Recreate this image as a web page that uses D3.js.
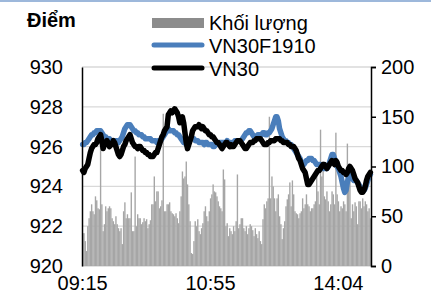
<!DOCTYPE html>
<html>
<head>
<meta charset="utf-8">
<script src="https://d3js.org/d3.v7.min.js"></script>
<style>
  body { margin: 0; background: #fff; }
  svg text { font-family: "Liberation Sans", Arial, sans-serif; }
</style>
</head>
<body>
<div id="chart"></div>
<script>
// data, one value per minute of trading
var tickLabels = ["09:15", "10:55", "14:04"];
var tickIndex = [0, 100, 200];
var leftTicks = [920, 922, 924, 926, 928, 930];
var rightTicks = [0, 50, 100, 150, 200];
var legendNames = ["Khối lượng", "VN30F1910", "VN30"];

var volume = [
  33, 33, 25, 15, 40, 48, 55, 62, 55, 52,
  70, 66, 58, 57, 138, 62, 35, 42, 60, 55,
  58, 60, 58, 48, 45, 42, 50, 42, 38, 35,
  38, 22, 55, 64, 48, 52, 48, 48, 74, 35,
  35, 110, 40, 52, 48, 48, 42, 44, 48, 45,
  47, 38, 42, 46, 62, 62, 90, 65, 75, 75,
  58, 60, 66, 153, 55, 55, 62, 62, 64, 55,
  53, 52, 50, 53, 48, 43, 55, 70, 95, 88,
  90, 105, 82, 62, 45, 13, 12, 25, 45, 40,
  47, 35, 32, 38, 43, 55, 60, 50, 45, 55,
  68, 72, 82, 75, 74, 70, 65, 60, 58, 55,
  97, 87, 40, 43, 30, 38, 35, 32, 40, 35,
  45, 92, 38, 42, 48, 48, 38, 35, 40, 32,
  38, 42, 40, 36, 30, 38, 32, 28, 35, 25,
  22, 47, 62, 58, 65, 68, 150, 68, 90, 80,
  68, 55, 68, 72, 50, 42, 27, 38, 45, 60,
  67, 72, 84, 60, 86, 72, 55, 53, 52, 48,
  53, 55, 68, 58, 62, 72, 62, 60, 55, 58,
  58, 62, 65, 92, 75, 62, 137, 90, 105, 70,
  67, 75, 65, 55, 62, 75, 72, 62, 134, 72,
  65, 55, 60, 58, 65, 62, 55, 123, 102, 89,
  48, 62, 55, 64, 60, 42, 65, 65, 58, 68,
  60, 65, 62, 55, 58, 48
];

var vn30f = [
  926.1, 926.1, 926.2, 926.2, 926.3, 926.4, 926.5, 926.6, 926.6, 926.7,
  926.7, 926.8, 926.8, 926.8, 926.8, 926.7, 926.6, 926.5, 926.5, 926.4,
  926.4, 926.4, 926.3, 926.3, 926.3, 926.3, 926.3, 926.3, 926.2, 926.3,
  926.4, 926.5, 926.7, 926.9, 927.0, 927.1, 927.1, 927.1, 927.0, 926.9,
  926.8, 926.8, 926.7, 926.7, 926.6, 926.6, 926.6, 926.5, 926.5, 926.4,
  926.4, 926.4, 926.4, 926.4, 926.3, 926.3, 926.3, 926.3, 926.2, 926.3,
  926.3, 926.3, 926.4, 926.5, 926.6, 926.7, 926.8, 926.9, 926.8, 926.8,
  926.8, 926.8, 926.7, 926.7, 926.6, 926.6, 926.5, 926.4, 926.3, 926.2,
  926.2, 926.1, 926.2, 926.3, 926.4, 926.4, 926.4, 926.4, 926.3, 926.3,
  926.3, 926.2, 926.2, 926.2, 926.2, 926.1, 926.2, 926.2, 926.1, 926.1,
  926.1, 926.1, 926.0, 926.0, 926.1, 926.1, 926.2, 926.2, 926.2, 926.2,
  926.2, 926.2, 926.2, 926.3, 926.2, 926.2, 926.2, 926.1, 926.2, 926.3,
  926.3, 926.3, 926.3, 926.3, 926.3, 926.4, 926.5, 926.6, 926.7, 926.7,
  926.8, 926.8, 926.7, 926.6, 926.5, 926.5, 926.5, 926.6, 926.6, 926.6,
  926.6, 926.7, 926.7, 926.6, 926.6, 926.7, 926.7, 926.8, 926.9, 927.1,
  927.3, 927.5, 927.5, 927.3, 926.9, 926.7, 926.5, 926.4, 926.3, 926.3,
  926.2, 926.2, 926.1, 926.1, 926.0, 925.9, 925.8, 925.7, 925.6, 925.5,
  925.4, 925.2, 925.1, 925.1, 925.2, 925.3, 925.3, 925.4, 925.4, 925.4,
  925.3, 925.3, 925.2, 925.1, 925.1, 925.1, 925.1, 925.0, 924.9, 924.9,
  924.9, 924.9, 925.0, 925.2, 925.4, 925.6, 925.6, 925.4, 925.1, 925.0,
  924.9, 924.7, 924.5, 924.2, 923.9, 923.7, 923.8, 924.2, 924.5, 924.6,
  924.5, 924.4, 924.3, 924.3, 924.3, 924.2, 924.1, 924.0, 923.9, 923.8,
  923.8, 923.9, 924.1, 924.3, 924.5, 924.6
];

var vn30 = [
  924.8, 924.7, 924.9, 925.0, 925.1, 925.4, 925.7, 925.9, 926.0, 926.1,
  926.1, 926.2, 926.4, 926.5, 926.6, 926.3, 925.9, 926.1, 926.2, 926.3,
  926.2, 926.0, 926.1, 926.1, 926.3, 926.2, 926.0, 925.8, 925.6, 925.5,
  925.6, 925.8, 926.0, 926.1, 926.3, 926.4, 926.5, 926.6, 926.4, 926.2,
  926.1, 926.0, 926.0, 925.9, 926.0, 926.0, 925.9, 925.8, 925.8, 925.7,
  925.7, 925.6, 925.6, 925.5, 925.5, 925.5, 925.6, 925.7, 925.7, 925.9,
  926.1, 926.3, 926.5, 926.6, 926.8, 926.9, 927.0, 927.6, 927.7, 927.8,
  927.7, 927.8, 927.9, 927.8, 927.7, 927.5, 927.2, 927.3, 927.5, 927.2,
  926.7, 926.2, 925.9, 926.1, 926.3, 926.5, 926.8, 926.9, 927.0, 927.0,
  927.0, 927.1, 927.0, 926.9, 927.0, 926.9, 926.8, 926.8, 926.7, 926.6,
  926.6, 926.5, 926.5, 926.4, 926.3, 926.2, 926.2, 926.1, 926.0, 925.9,
  926.0, 926.1, 926.2, 926.2, 926.1, 926.0, 926.1, 926.0, 926.0, 926.1,
  926.2, 926.3, 926.3, 926.3, 926.2, 926.1, 926.0, 925.9, 925.9, 926.0,
  926.1, 926.2, 926.2, 926.2, 926.3, 926.3, 926.4, 926.4, 926.4, 926.4,
  926.3, 926.2, 926.1, 926.1, 926.1, 926.2, 926.2, 926.3, 926.3, 926.3,
  926.3, 926.4, 926.4, 926.4, 926.4, 926.3, 926.3, 926.2, 926.2, 926.2,
  926.2, 926.1, 926.1, 926.0, 926.0, 926.0, 925.9, 925.8, 925.6, 925.4,
  925.3, 925.1, 924.9, 924.8, 924.7, 924.4, 924.1, 924.1, 924.2, 924.3,
  924.4, 924.5, 924.6, 924.7, 924.8, 924.8, 924.9, 925.0, 925.1, 925.1,
  925.0, 924.9, 925.0, 925.1, 925.2, 925.3, 925.2, 925.1, 925.3, 925.2,
  925.0, 924.9, 924.8, 924.8, 924.7, 924.7, 924.6, 924.7, 924.9, 925.0,
  924.9, 924.8, 924.6, 924.4, 924.3, 924.2, 924.0, 923.8, 923.7, 923.7,
  923.8, 924.0, 924.3, 924.5, 924.6, 924.7
];

var w = 431, h = 290;
var plot = {left: 82, right: 371, top: 67, bottom: 266};
var blue = "#4a7ebb", gray = "#a6a6a6", grid = "#d9d9d9";

var svg = d3.select("#chart").append("svg")
  .attr("width", w)
  .attr("height", h);

// thin rule along the top edge
svg.append("line")
  .attr("x1", 0).attr("x2", w)
  .attr("y1", 1).attr("y2", 1)
  .attr("stroke", "#7da0cf")
  .attr("stroke-width", 1.5);

var xScale = d3.scaleBand()
  .domain(d3.range(volume.length))
  .range([plot.left, plot.right])
  .paddingInner(0);

var yLeft = d3.scaleLinear().domain([920, 930]).range([plot.bottom, plot.top]);
var yRight = d3.scaleLinear().domain([0, 200]).range([plot.bottom, plot.top]);

function xc(i) { return xScale(i) + xScale.bandwidth() / 2; }

// gridlines
svg.append("g")
  .selectAll("line")
  .data(leftTicks)
  .enter()
  .append("line")
  .attr("x1", plot.left).attr("x2", plot.right)
  .attr("y1", function(d) { return yLeft(d); })
  .attr("y2", function(d) { return yLeft(d); })
  .attr("stroke", grid)
  .attr("stroke-width", 1.3);

// volume bars
svg.append("g")
  .selectAll("rect")
  .data(volume)
  .enter()
  .append("rect")
  .attr("x", function(d, i) { return xScale(i); })
  .attr("width", xScale.bandwidth() + 0.1)
  .attr("y", function(d) { return yRight(d); })
  .attr("height", function(d) { return plot.bottom - yRight(d); })
  .attr("fill", gray);

var lineL = d3.line()
  .x(function(d, i) { return xc(i); })
  .y(function(d) { return yLeft(d); });

svg.append("path")
  .datum(vn30f)
  .attr("d", lineL)
  .attr("fill", "none")
  .attr("stroke", blue)
  .attr("stroke-width", 5.5)
  .attr("stroke-linejoin", "round")
  .attr("stroke-linecap", "round");

svg.append("path")
  .datum(vn30)
  .attr("d", lineL)
  .attr("fill", "none")
  .attr("stroke", "#000")
  .attr("stroke-width", 5.5)
  .attr("stroke-linejoin", "round")
  .attr("stroke-linecap", "round");

// left axis: line only, labels on the left
var leftAxis = svg.append("g")
  .attr("transform", "translate(" + plot.left + ",0)")
  .call(d3.axisLeft(yLeft).tickValues(leftTicks).tickSize(0).tickPadding(19).tickFormat(d3.format("d")));
leftAxis.select(".domain").attr("stroke", "#000").attr("stroke-width", 1.5);
leftAxis.selectAll("text").attr("font-size", 20).attr("fill", "#000")
  .attr("font-family", "Liberation Sans, Arial, sans-serif");

// right axis: small outward ticks
var rightAxis = svg.append("g")
  .attr("transform", "translate(" + plot.right + ",0)")
  .call(d3.axisRight(yRight).tickValues(rightTicks).tickSize(5).tickSizeOuter(5).tickPadding(5));
rightAxis.select(".domain").attr("stroke", "#000").attr("stroke-width", 1.5);
rightAxis.selectAll("line").attr("stroke", "#000").attr("stroke-width", 1.5);
rightAxis.selectAll("text").attr("font-size", 20).attr("fill", "#000")
  .attr("font-family", "Liberation Sans, Arial, sans-serif");

// time labels
svg.append("g")
  .selectAll("text")
  .data(tickIndex)
  .enter()
  .append("text")
  .attr("x", function(d) { return xc(d); })
  .attr("y", 290)
  .attr("text-anchor", "middle")
  .attr("font-size", 20)
  .text(function(d, i) { return tickLabels[i]; });

// axis title
svg.append("text")
  .attr("x", 27)
  .attr("y", 27)
  .attr("font-size", 20)
  .attr("font-weight", "bold")
  .text("Điểm");

// legend
var lg = svg.append("g");
lg.append("rect")
  .attr("x", 152).attr("y", 18)
  .attr("width", 52).attr("height", 10)
  .attr("fill", "#8c8c8c");
lg.append("line")
  .attr("x1", 154).attr("x2", 202)
  .attr("y1", 45).attr("y2", 45)
  .attr("stroke", blue).attr("stroke-width", 5)
  .attr("stroke-linecap", "round");
lg.append("line")
  .attr("x1", 154).attr("x2", 202)
  .attr("y1", 68).attr("y2", 68)
  .attr("stroke", "#000").attr("stroke-width", 5)
  .attr("stroke-linecap", "round");
lg.selectAll("text")
  .data(legendNames)
  .enter()
  .append("text")
  .attr("x", 209)
  .attr("y", function(d, i) { return 30 + i * 23; })
  .attr("font-size", 20)
  .text(function(d) { return d; });
</script>
</body>
</html>
